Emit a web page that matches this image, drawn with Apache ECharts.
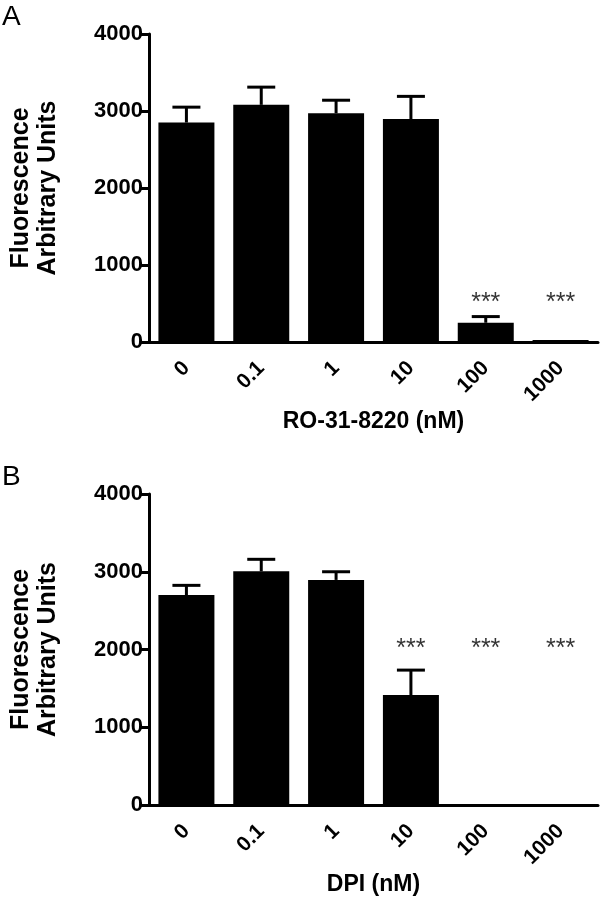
<!DOCTYPE html>
<html style="height: 100%">
   <head>
       <meta charset="utf-8">
   </head>
   <body style="width:600px;height:899px; margin: 0; background:#fff">
        <div id="container" style="width:600px;height:899px;"></div>
       <script type="text/javascript" src="https://cdn.jsdelivr.net/npm/echarts@6/dist/echarts.min.js"></script>

<script type="text/javascript">
	// categories (nM)
	var cats = ['0', '0.1', '1', '10', '100', '1000'];
	var yTicks = [0, 1000, 2000, 3000, 4000];

	// panel A: RO-31-8220
	var meanA = [2850, 3080, 2970, 2895, 250, 25];
	var errTopA = [3050, 3310, 3140, 3190, 330, null];
	var starA = [null, null, null, null, 500, 500];

	// panel B: DPI
	var meanB = [2700, 3005, 2895, 1415, 0, 0];
	var errTopB = [2825, 3160, 3000, 1735, null, null];
	var starB = [null, null, null, 2010, 2010, 2010];

	var FONT = '"Liberation Sans", Arial, sans-serif';

	var dom = document.getElementById("container");
	var myChart = echarts.init(dom);

	function errData(mean, top) {
		var out = [];
		for (var i = 0; i < mean.length; i++) {
			if (top[i] != null) out.push([i, mean[i], top[i]]);
		}
		return out;
	}

	function starData(s) {
		var out = [];
		for (var i = 0; i < s.length; i++) {
			if (s[i] != null) out.push([i, s[i]]);
		}
		return out;
	}

	function renderErr(params, api) {
		var base = api.coord([api.value(0), api.value(1)]);
		var top = api.coord([api.value(0), api.value(2)]);
		var st = { stroke: '#000', lineWidth: 3 };
		return {
			type: 'group',
			children: [
				{ type: 'line', shape: { x1: base[0], y1: base[1], x2: top[0], y2: top[1] }, style: st },
				{ type: 'line', shape: { x1: top[0] - 14, y1: top[1], x2: top[0] + 14, y2: top[1] }, style: st }
			]
		};
	}

	function xAxisCfg(idx, name) {
		return {
			type: 'category',
			gridIndex: idx,
			data: cats,
			name: name,
			nameLocation: 'middle',
			nameGap: 68,
			nameTextStyle: { color: '#000', fontWeight: 'bold', fontSize: 23, fontFamily: FONT },
			axisLine: { lineStyle: { color: '#000', width: 3 } },
			axisTick: { alignWithLabel: true, length: 11, lineStyle: { color: '#000', width: 3 } },
			axisLabel: { rotate: 45, margin: 23, color: '#000', fontWeight: 'bold', fontSize: 21, fontFamily: FONT }
		};
	}

	function yAxisCfg(idx) {
		return {
			type: 'value',
			gridIndex: idx,
			min: 0,
			max: 4000,
			interval: 1000,
			name: 'Fluorescence\nArbitrary Units',
			nameLocation: 'middle',
			nameGap: 87,
			nameRotate: 90,
			nameTextStyle: { color: '#000', fontWeight: 'bold', fontSize: 25, lineHeight: 27, fontFamily: FONT },
			axisLine: { show: true, lineStyle: { color: '#000', width: 3 } },
			axisTick: { show: true, length: 10, lineStyle: { color: '#000', width: 3 } },
			splitLine: { show: false },
			axisLabel: { margin: 6, color: '#000', fontWeight: 'bold', fontSize: 22, fontFamily: FONT,
				formatter: function (v) { return yTicks.indexOf(v) >= 0 ? String(v) : ''; } }
		};
	}

	var option = {
		animation: false,
		backgroundColor: '#fff',
		grid: [
			{ left: 135, top: 34, width: 463, height: 308 },
			{ left: 135, top: 494, width: 463, height: 311 }
		],
		xAxis: [xAxisCfg(0, 'RO-31-8220 (nM)'), xAxisCfg(1, 'DPI (nM)')],
		yAxis: [yAxisCfg(0), yAxisCfg(1)],
		graphic: [
			{ type: 'text', left: 2, top: 3, style: { text: 'A', fontSize: 28, fontFamily: FONT, fill: '#000' } },
			{ type: 'text', left: 2, top: 463, style: { text: 'B', fontSize: 28, fontFamily: FONT, fill: '#000' } }
		],
		series: [
			{ type: 'bar', xAxisIndex: 0, yAxisIndex: 0, data: meanA, barWidth: 56, itemStyle: { color: '#000' } },
			{ type: 'custom', xAxisIndex: 0, yAxisIndex: 0, data: errData(meanA, errTopA), renderItem: renderErr, z: 3 },
			{ type: 'scatter', xAxisIndex: 0, yAxisIndex: 0, data: starData(starA), symbolSize: 0,
				label: { show: true, position: 'inside', formatter: '***', color: '#000', fontSize: 25, fontFamily: FONT } },
			{ type: 'bar', xAxisIndex: 1, yAxisIndex: 1, data: meanB, barWidth: 56, itemStyle: { color: '#000' } },
			{ type: 'custom', xAxisIndex: 1, yAxisIndex: 1, data: errData(meanB, errTopB), renderItem: renderErr, z: 3 },
			{ type: 'scatter', xAxisIndex: 1, yAxisIndex: 1, data: starData(starB), symbolSize: 0,
				label: { show: true, position: 'inside', formatter: '***', color: '#000', fontSize: 25, fontFamily: FONT } }
		]
	};

	myChart.setOption(option, true);
</script>

   </body>
</html>
